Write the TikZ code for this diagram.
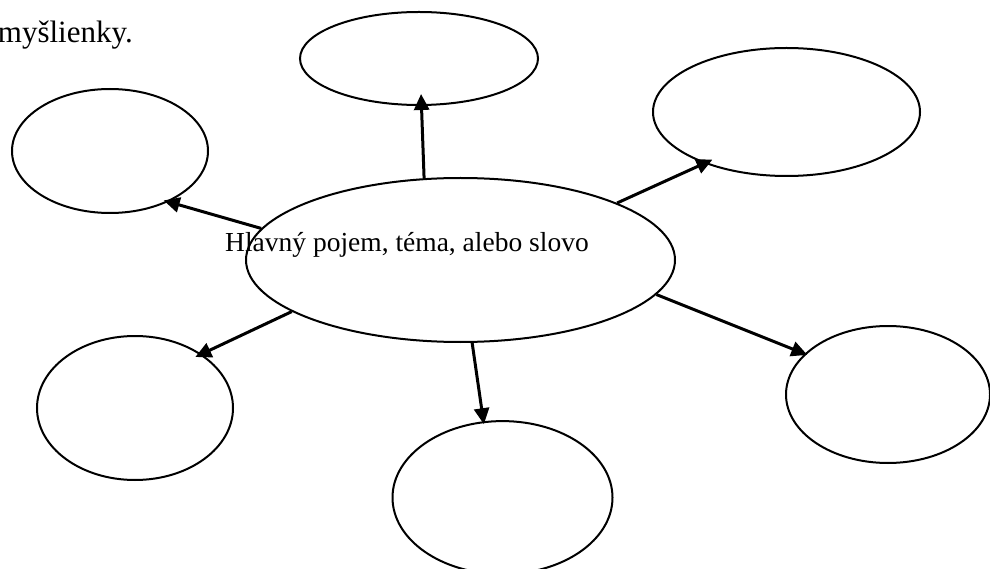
\documentclass[tikz,border=0pt]{standalone}
\usepackage{fontspec}
\setmainfont{Liberation Serif}
\usetikzlibrary{positioning, arrows.meta, shapes}

\begin{document}
\begin{tikzpicture}[x=1pt, y=-1pt,
    bubble/.style={ellipse, draw, line width=2pt, inner sep=0pt},
    arrow/.style={line width=3pt, -{Triangle[length=16pt, width=15pt]}},
    txt/.style={font=\fontsize{27.5}{32}\selectfont, inner sep=0pt}]
  \clip (0,0) rectangle (990,569);

  % Stred
  \node[bubble, minimum width=429pt, minimum height=164pt] (main) at (460.5,260) {};
  \node[txt, anchor=base west] (title) at (225,252) {Hlavný pojem, téma, alebo slovo};
  \node[txt, font=\fontsize{31}{36}\selectfont, anchor=base east] (intro) at (133,43) {myšlienky.};

  % Bubliny
  \node[bubble, minimum width=238pt, minimum height=93pt] (ideaN) at (419,58.5) {};
  \node[bubble, minimum width=267pt, minimum height=128pt] (ideaNE) at (786.5,112) {};
  \node[bubble, minimum width=196pt, minimum height=124pt] (ideaW) at (110,151) {};
  \node[bubble, minimum width=196pt, minimum height=144pt] (ideaSW) at (135,408) {};
  \node[bubble, minimum width=220pt, minimum height=153pt] (ideaS) at (502.5,497.6) {};
  \node[bubble, minimum width=204pt, minimum height=137pt] (ideaE) at (888,394.5) {};

  % Sipky
  \draw[arrow, shorten >=-12pt] (main.114) -- (ideaN.273);
  \draw[arrow, shorten >=-9pt] (main.20) -- (ideaNE.212);
  \draw[arrow, shorten >=-5pt] (main.171) -- (ideaW.319);
  \draw[arrow, shorten >=-7pt] (main.197) -- (ideaSW.39);
  \draw[arrow, shorten >=-3pt] (main.278) -- (ideaS.104);
  \draw[arrow, shorten >=-3pt] (main.350) -- (ideaE.154);
\end{tikzpicture}
\end{document}
